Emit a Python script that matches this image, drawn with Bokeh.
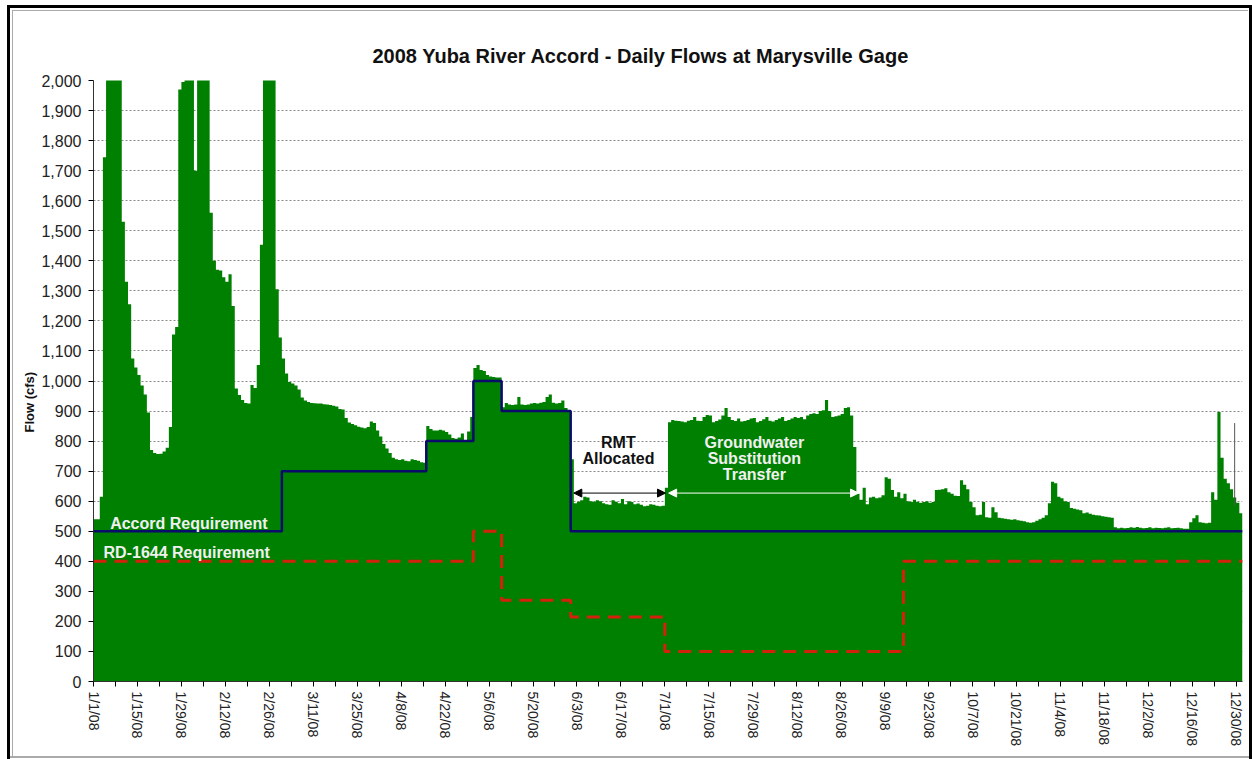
from bokeh.plotting import figure
from bokeh.models import (Range1d, FixedTicker, NumeralTickFormatter, Label, Arrow,
                          NormalHead, Title)
from bokeh.embed import file_html
from bokeh.resources import INLINE

# ---- data (daily flows, cfs, 2008; day 0 = 1/1/08) ----
jan = [540, 540, 615, 1745, 2400, 2600, 2600, 2400, 2200, 1530, 1330, 1255, 1075, 1045, 1020, 985,
       955, 895, 770, 760, 757, 758, 765, 778, 847, 1155, 1180, 1970, 1995, 2300, 2400]
feb = [2400, 1700, 2300, 2500, 2400, 2200, 1560, 1400, 1370, 1368, 1345, 1330, 1355, 1250, 975,
       953, 937, 927, 925, 987, 977, 1053, 1453, 2300, 2600, 2500, 2200, 1305, 1145]
mar = [1075, 1025, 997, 992, 985, 972, 945, 935, 930, 927, 926, 925, 925, 923, 922, 920, 918, 915,
       907, 905, 877, 862, 857, 853, 848, 845, 843, 847, 865, 860, 835]
apr = [815, 790, 775, 760, 745, 740, 737, 740, 735, 733, 740, 737, 735, 730, 728, 850, 840, 835,
       835, 838, 835, 830, 822, 810, 808, 812, 825, 803, 832, 880]
may = [1043, 1053, 1037, 1033, 1020, 1015, 1013, 1012, 1012, 913, 927, 922, 920, 922, 947, 922,
       920, 922, 925, 927, 925, 928, 930, 947, 955, 928, 925, 927, 935, 910, 900]
jun = [740, 593, 598, 603, 615, 612, 600, 598, 603, 600, 593, 590, 588, 603, 598, 593, 607, 590,
       600, 597, 590, 592, 588, 583, 585, 590, 588, 585, 583, 585]
jul = [645, 863, 870, 868, 867, 865, 863, 868, 870, 880, 868, 867, 880, 887, 885, 863, 867, 872,
       885, 910, 880, 870, 867, 875, 865, 867, 870, 875, 877, 863, 867]
aug = [873, 880, 868, 865, 870, 875, 880, 867, 870, 875, 880, 877, 880, 873, 885, 890, 893, 890,
       900, 903, 937, 900, 880, 883, 885, 890, 910, 913, 885, 780, 625]
sep = [605, 645, 590, 612, 615, 610, 612, 620, 680, 675, 637, 615, 630, 610, 625, 600, 597, 605,
       598, 595, 597, 600, 595, 597, 637, 638, 640, 643, 630, 625]
octo = [618, 617, 670, 655, 640, 597, 580, 553, 555, 597, 547, 545, 580, 563, 545, 543, 542, 540,
        538, 540, 537, 535, 533, 530, 528, 530, 535, 540, 545, 553, 593]
nov = [665, 660, 615, 610, 600, 597, 577, 575, 572, 570, 560, 562, 558, 555, 553, 552, 550, 548,
       547, 545, 513, 510, 512, 510, 511, 513, 512, 514, 512, 510]
dec = [511, 513, 510, 512, 511, 510, 512, 513, 510, 511, 512, 510, 508, 508, 530, 543, 553, 530,
       528, 527, 528, 630, 605, 897, 745, 675, 660, 640, 612, 595, 560]

flow = jan + feb + mar + apr + may + jun + jul + aug + sep + octo + nov + dec

spike_day = [363]
spike_low = [585]
spike_top = [860]

accord_start_day = [0, 60, 106, 121, 130, 152]
accord_cfs = [500, 700, 800, 1000, 900, 500]
rd_start_day = [0, 121, 130, 152, 182, 258]
rd_cfs = [400, 500, 270, 215, 100, 400]

tick_days = list(range(0, 365, 14))
tick_labels = ["1/1/08", "1/15/08", "1/29/08", "2/12/08", "2/26/08", "3/11/08", "3/25/08",
               "4/8/08", "4/22/08", "5/6/08", "5/20/08", "6/3/08", "6/17/08", "7/1/08",
               "7/15/08", "7/29/08", "8/12/08", "8/26/08", "9/9/08", "9/23/08", "10/7/08",
               "10/21/08", "11/4/08", "11/18/08", "12/2/08", "12/16/08", "12/30/08"]
y_ticks = list(range(0, 2001, 100))

FONT = "Liberation Sans"
ndays = len(flow)

# picture frame of the original screenshot, painted behind a transparent canvas
frame_bg = ", ".join([
    "linear-gradient(#000,#000) 7px 5px / 1245px 3px no-repeat",
    "linear-gradient(#000,#000) 7px 5px / 3px 754px no-repeat",
    "linear-gradient(#000,#000) 1249px 5px / 3px 754px no-repeat",
    "linear-gradient(#aaa,#aaa) 12px 10px / 1236px 1px no-repeat",
    "linear-gradient(#aaa,#aaa) 12px 10px / 1px 747px no-repeat",
    "linear-gradient(#aaa,#aaa) 10px 756px / 1239px 2px no-repeat",
    "#ffffff",
])

p = figure(width=1252, height=759, output_backend="svg", toolbar_location=None,
           x_range=Range1d(0, ndays), y_range=Range1d(0, 2000),
           min_border_left=93, min_border_right=10, min_border_top=80, min_border_bottom=78,
           background_fill_color="white", border_fill_color=None,
           styles={"background": frame_bg})
p.outline_line_color = None

t = Title(text="2008 Yuba River Accord  - Daily Flows at Marysville Gage", align="left",
          offset=279, text_font=FONT, text_font_size="20px", text_font_style="bold",
          text_color="#111111", standoff=27)
p.add_layout(t, "above")

# flows
edges = list(range(ndays + 1))
p.varea_step(x=edges, y1=[0] * (ndays + 1), y2=flow + [flow[-1]], step_mode="after",
             fill_color="#008000")
p.segment(x0=[d + 0.5 for d in spike_day], y0=spike_low, x1=[d + 0.5 for d in spike_day],
          y1=spike_top, line_color="#555555", line_width=1)

# requirements
p.step(x=rd_start_day + [ndays], y=rd_cfs + [rd_cfs[-1]], mode="after",
       line_color="#d4210e", line_width=3, line_dash="13 8")
p.step(x=accord_start_day + [ndays], y=accord_cfs + [accord_cfs[-1]], mode="after",
       line_color="#0b0b6b", line_width=2.5)

# axes
p.xaxis.ticker = FixedTicker(ticks=tick_days, minor_ticks=[d + 7 for d in tick_days[:-1]])
p.xaxis.major_label_overrides = {d: lab for d, lab in zip(tick_days, tick_labels)}
p.xaxis.major_label_orientation = "vertical"
p.xaxis.major_label_text_font = FONT
p.xaxis.major_label_text_font_size = "14px"
p.xaxis.major_label_text_color = "#222222"
p.xaxis.major_tick_out = 5
p.xaxis.major_tick_in = 0
p.xaxis.minor_tick_out = 5
p.xaxis.minor_tick_in = 0
p.xaxis.major_label_standoff = 5
p.xaxis.axis_line_color = "#333333"

p.yaxis.ticker = FixedTicker(ticks=y_ticks)
p.yaxis.formatter = NumeralTickFormatter(format="0,0")
p.yaxis.major_label_text_font = FONT
p.yaxis.major_label_text_font_size = "16px"
p.yaxis.major_label_text_color = "#222222"
p.yaxis.major_tick_out = 5
p.yaxis.major_tick_in = 0
p.yaxis.minor_tick_line_color = None
p.yaxis.major_label_standoff = 7
p.yaxis.axis_line_color = "#333333"

ylab = Title(text="Flow (cfs)", align="left", offset=249, text_font=FONT,
             text_font_size="13px", text_font_style="bold", text_color="#111111", standoff=4)
p.add_layout(ylab, "left")

p.xgrid.grid_line_color = None
p.ygrid.ticker = FixedTicker(ticks=y_ticks)
p.ygrid.grid_line_color = "#8a8a8a"
p.ygrid.grid_line_dash = "2 2"
p.ygrid.grid_line_width = 1

# annotations
def lab(x, y, text, color, align="center", baseline="middle", size="16px"):
    p.add_layout(Label(x=x, y=y, text=text, text_color=color, text_font=FONT,
                       text_font_size=size, text_font_style="bold",
                       text_align=align, text_baseline=baseline))

lab(5.3, 525, "Accord Requirement", "#f0f0f0", align="left")
lab(3.2, 428, "RD-1644 Requirement", "#f0f0f0", align="left")
lab(167.2, 797, "RMT", "#111111")
lab(167.2, 743, "Allocated", "#111111")
lab(210.5, 797, "Groundwater", "#f0f0f0")
lab(210.5, 743, "Substitution", "#f0f0f0")
lab(210.5, 690, "Transfer", "#f0f0f0")

p.add_layout(Arrow(start=NormalHead(size=8, fill_color="black", line_color="black"),
                   end=NormalHead(size=8, fill_color="black", line_color="black"),
                   x_start=153.0, y_start=627, x_end=182.2, y_end=627,
                   line_color="black", line_width=1))
p.add_layout(Arrow(start=NormalHead(size=8, fill_color="white", line_color="white"),
                   end=NormalHead(size=8, fill_color="white", line_color="white"),
                   x_start=183.2, y_start=627, x_end=243.7, y_end=627,
                   line_color="white", line_width=1))

open("out.html", "w").write(file_html(p, INLINE))
